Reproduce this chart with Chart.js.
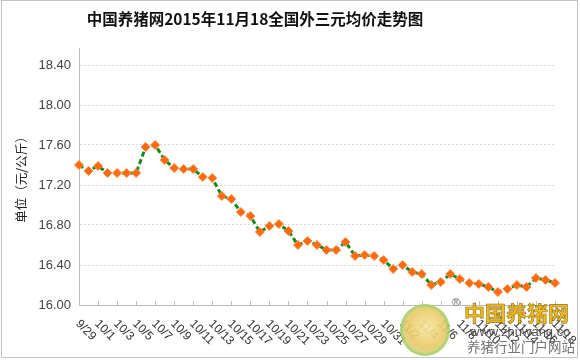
<!DOCTYPE html>
<html>
<head>
<meta charset="utf-8">
<script src="https://cdn.jsdelivr.net/npm/chart.js@4/dist/chart.umd.min.js"></script>
<style>
html,body{margin:0;padding:0;background:#fff;}
#wrap{position:relative;width:580px;height:360px;overflow:hidden;}
#frame{position:absolute;left:1px;top:0;width:575px;height:356px;border:1px solid #c4c4c4;pointer-events:none;}
#title{position:absolute;left:0;top:7px;width:510px;text-align:center;font:bold 15.5px "Noto Sans CJK SC",sans-serif;line-height:22px;color:#111;}
#logo{position:absolute;left:398px;top:292px;width:182px;height:66px;opacity:0.9;pointer-events:none;}
#logo .ring{position:absolute;left:2px;top:12px;width:44px;height:46px;border-radius:50%;border:3px solid #a8d06a;background:radial-gradient(circle at 55% 45%,#f7e7a0 0%,#e9c965 55%,#cfd9a0 100%);}
#logo .reg{position:absolute;left:54px;top:4px;font:11px Arial,sans-serif;color:#555;}
#logo .name{position:absolute;left:66px;top:9px;font:bold 21px "Noto Sans CJK SC",sans-serif;line-height:22px;color:#f0b400;-webkit-text-stroke:0.6px #7a5a00;}
#logo .url{position:absolute;left:72px;top:33px;font:13px Arial,sans-serif;line-height:14px;color:#444;}
#logo .slogan{position:absolute;left:69px;top:46px;font:13.5px "Noto Sans CJK SC",sans-serif;line-height:16px;color:#666;}
</style>
</head>
<body>
<div id="wrap">
  <canvas id="c" width="580" height="360"></canvas>
  <div id="title">中国养猪网2015年11月18全国外三元均价走势图</div>
  <div id="logo">
    <div class="ring"></div>
    <div class="reg">®</div>
    <div class="name">中国养猪网</div>
    <div class="url">www.zhuwang.cc</div>
    <div class="slogan">养猪行业门户网站</div>
  </div>
  <div id="frame"></div>
</div>
<script>
const dates = ['9/29','9/30','10/1','10/2','10/3','10/4','10/5','10/6','10/7','10/8','10/9','10/10','10/11','10/12','10/13','10/14','10/15','10/16','10/17','10/18','10/19','10/20','10/21','10/22','10/23','10/24','10/25','10/26','10/27','10/28','10/29','10/30','10/31','11/1','11/2','11/3','11/4','11/5','11/6','11/7','11/8','11/9','11/10','11/11','11/12','11/13','11/14','11/15','11/16','11/17','11/18'];
const prices = [17.40,17.34,17.39,17.32,17.32,17.32,17.32,17.58,17.60,17.45,17.37,17.36,17.36,17.28,17.27,17.09,17.06,16.93,16.89,16.73,16.79,16.81,16.74,16.60,16.64,16.60,16.55,16.55,16.63,16.49,16.50,16.49,16.45,16.36,16.40,16.33,16.31,16.20,16.23,16.31,16.26,16.22,16.21,16.18,16.13,16.16,16.20,16.18,16.27,16.25,16.22];
const yTicks = [16.00,16.40,16.80,17.20,17.60,18.00,18.40];
const yTitle = '单位（元/公斤）';

const xLabelPlugin = {
  id: 'xLabels',
  afterDraw(chart) {
    const ctx = chart.ctx;
    const xs = chart.scales.x;
    const bottom = chart.chartArea.bottom;
    ctx.save();
    ctx.strokeStyle = '#bdbdbd';
    ctx.lineWidth = 1;
    ctx.fillStyle = '#333';
    ctx.font = '12px "Liberation Sans", Arial, sans-serif';
    ctx.textAlign = 'left';
    ctx.textBaseline = 'middle';
    for (let i = 0; i < dates.length; i += 2) {
      const x = Math.round(xs.getPixelForValue(i)) + 0.5;
      ctx.beginPath();
      ctx.moveTo(x, bottom);
      ctx.lineTo(x, bottom - 4);
      ctx.stroke();
      ctx.save();
      ctx.translate(x - 2, bottom + 17);
      ctx.rotate(Math.PI / 4);
      ctx.fillText(dates[i], 0, 0);
      ctx.restore();
    }
    ctx.restore();
  }
};

new Chart(document.getElementById('c'), {
  type: 'line',
  data: {
    labels: dates,
    datasets: [{
      data: prices,
      borderColor: '#138a18',
      borderWidth: 3,
      borderDash: [5, 3],
      tension: 0,
      pointStyle: 'rectRot',
      pointRadius: 4.5,
      pointBackgroundColor: '#ff6a10',
      pointBorderColor: '#ff8a3c',
      pointBorderWidth: 1
    }]
  },
  options: {
    responsive: false,
    animation: false,
    layout: { padding: { top: 48, right: 25, left: 0, bottom: 0 } },
    plugins: { legend: { display: false }, tooltip: { enabled: false }, title: { display: false } },
    scales: {
      x: {
        offset: false,
        grid: { display: false },
        border: { display: true, color: '#bdbdbd', width: 1 },
        ticks: { display: false },
        afterFit: s => { s.height = 55; }
      },
      y: {
        min: 16,
        max: 18.57,
        afterBuildTicks: s => { s.ticks = yTicks.map(v => ({ value: v })); },
        afterFit: s => { s.width = 79; },
        grid: { color: '#d8d8d8', lineWidth: 1, drawTicks: false },
        border: { display: true, color: '#bdbdbd', width: 1, dash: [2, 2] },
        ticks: {
          padding: 8,
          color: '#444',
          font: { size: 13, family: '"Liberation Sans", Arial, sans-serif' },
          callback: v => Number(v).toFixed(2)
        },
        title: {
          display: true,
          text: yTitle,
          color: '#222',
          font: { size: 12.5, family: '"Noto Sans CJK SC", sans-serif' },
          padding: { top: 13.5, bottom: 0 }
        }
      }
    }
  },
  plugins: [xLabelPlugin]
});
</script>
</body>
</html>
